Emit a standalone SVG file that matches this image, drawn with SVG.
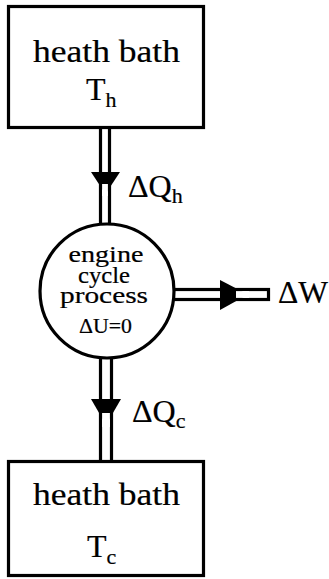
<svg xmlns="http://www.w3.org/2000/svg" width="329" height="579" viewBox="0 0 329 579">
<style>
.box{fill:#fff;stroke:#000;stroke-width:3.2}
.pipe{fill:#fff;stroke:#000;stroke-width:3.2}
.head{fill:#000}
.notch{fill:#fff}
text{font-family:"Liberation Serif","Times New Roman",serif;fill:#000;stroke:#000;stroke-width:0.2}
.big{font-size:32px}
.mid{font-size:24px}
.sub{font-size:22px}
.small{font-size:20px}
</style>
<rect width="329" height="579" fill="#fff"/>
<g id="connectors">
  <g id="flow-Qh">
    <rect class="pipe" x="100.5" y="127" width="9" height="98"/>
    <polygon class="head" points="91,172 120,172 105.5,194"/>
    <rect class="notch" x="102.1" y="184" width="5.8" height="12"/>
  </g>
  <g id="flow-W">
    <rect class="pipe" x="170" y="289.5" width="98.5" height="10"/>
    <polygon class="head" points="220,280 220,310 248,294.5"/>
    <rect class="notch" x="236" y="291.1" width="13" height="6.8"/>
  </g>
  <g id="flow-Qc">
    <rect class="pipe" x="100.5" y="356" width="11" height="106"/>
    <polygon class="head" points="91,399 121,399 106,425"/>
    <rect class="notch" x="102.1" y="413" width="7.8" height="14"/>
  </g>
  <text class="big" x="128" y="197">ΔQ<tspan class="sub" dy="6">h</tspan></text>
  <text class="big" x="278" y="303" textLength="50" lengthAdjust="spacingAndGlyphs">ΔW</text>
  <text class="big" x="132" y="422">ΔQ<tspan class="sub" dy="6">c</tspan></text>
</g>
<g id="node-hot">
  <rect class="box" x="8.5" y="6.5" width="195" height="121"/>
  <text class="big" x="33" y="62" textLength="147" lengthAdjust="spacingAndGlyphs">heath bath</text>
  <text class="big" x="86" y="100">T<tspan class="sub" dy="7">h</tspan></text>
</g>
<g id="node-engine">
  <circle cx="107" cy="291" r="67" fill="#fff" stroke="#000" stroke-width="3.2"/>
  <text class="mid" x="106" y="262" text-anchor="middle" textLength="75" lengthAdjust="spacingAndGlyphs">engine</text>
  <text class="mid" x="104" y="283" text-anchor="middle" textLength="52" lengthAdjust="spacingAndGlyphs">cycle</text>
  <text class="mid" x="104" y="303" text-anchor="middle" textLength="88" lengthAdjust="spacingAndGlyphs">process</text>
  <text class="small" x="79" y="333" textLength="53" lengthAdjust="spacingAndGlyphs">ΔU=0</text>
</g>
<g id="node-cold">
  <rect class="box" x="8.5" y="461.5" width="195" height="114"/>
  <text class="big" x="33" y="505" textLength="147" lengthAdjust="spacingAndGlyphs">heath bath</text>
  <text class="big" x="87" y="557">T<tspan class="sub" dy="7">c</tspan></text>
</g>
</svg>
